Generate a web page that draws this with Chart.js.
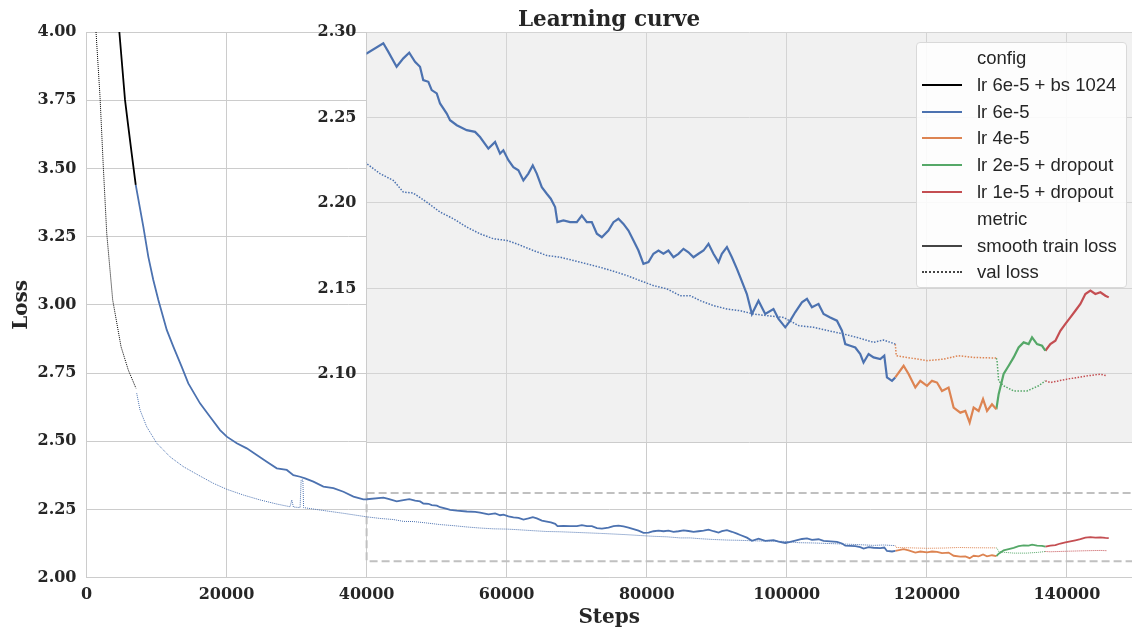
<!DOCTYPE html>
<html>
<head>
<meta charset="utf-8">
<title>Learning curve</title>
<script src="https://cdn.jsdelivr.net/npm/chart.js@4.4.1/dist/chart.umd.min.js"></script>
<style>
  html, body { margin: 0; padding: 0; background: #fff; }
  #wrap { position: relative; width: 1132px; height: 628px; overflow: hidden; }
  #main { position: absolute; left: 0; top: 0; }
  #inset { position: absolute; left: 300px; top: 0; }
  #title {
    position: absolute; left: 86px; width: 1046px; top: 7px; text-align: center;
    font: bold 21.5px/24px "DejaVu Serif", serif; color: #262626;
  }
  #legend {
    position: absolute; left: 916px; top: 42px; width: 211px; height: 246px;
    background: rgba(255, 255, 255, 0.85); border: 1px solid #d9d9d9; border-radius: 4px;
    font: 18.5px "Liberation Sans", Arial, sans-serif; color: #262626; box-sizing: border-box;
  }
  .row { position: absolute; left: 0; height: 27px; line-height: 27px; white-space: nowrap; }
  .row .txt { position: absolute; left: 60px; }
  .row .hdl { position: absolute; left: 5px; width: 40px; top: 13px; }
</style>
</head>
<body>
<div id="wrap">
  <canvas id="main" width="1132" height="628"></canvas>
  <canvas id="inset" width="832" height="462"></canvas>
  <div id="title">Learning curve</div>
  <div id="legend"></div>
</div>
<script>
// Configs and legend labels
const configs = ['lr 6e-5 + bs 1024', 'lr 6e-5', 'lr 4e-5', 'lr 2e-5 + dropout', 'lr 1e-5 + dropout'];
const colors = ['#000000', '#4c72b0', '#dd8452', '#55a868', '#c44e52'];
const metrics = ['smooth train loss', 'val loss'];

// Tick labels
const xTicks = [0, 20000, 40000, 60000, 80000, 100000, 120000, 140000];
const yTicks = [2.00, 2.25, 2.50, 2.75, 3.00, 3.25, 3.50, 3.75, 4.00];
const insetYTicks = [2.10, 2.15, 2.20, 2.25, 2.30];
const insetXTicks = [40000, 60000, 80000, 100000, 120000, 140000];

// lr 6e-5 + bs 1024
const bs1024TrainSteps = [4690, 5500, 5970, 6450, 7030];
const bs1024TrainLoss = [4.000, 3.751, 3.653, 3.555, 3.440];
const bs1024ValSteps = [1360, 1930, 2400, 2890, 3740, 4930, 5970, 7070];
const bs1024ValLoss = [4.000, 3.763, 3.506, 3.262, 3.018, 2.847, 2.761, 2.694];

// lr 6e-5
const lr6TrainSteps = [7030, 8120, 8830, 9540, 10260, 11460, 12400, 13600, 14540, 16210, 17640, 19070,
  20030, 21460, 22890, 24310, 25740, 27170, 28600, 29540, 30500, 31210, 32400, 33830, 35260, 36690,
  38120, 39540, 40030, 42400, 43100, 44300, 45260, 46100, 46930, 47640, 48100, 48830, 49310, 50030,
  50500, 51460, 51930, 52890, 54310, 55500, 56210, 57400, 58360, 59070, 59540, 60260, 60970, 61690,
  62400, 63110, 63740, 64310, 65030, 65740, 66310, 66930, 67260, 68120, 69070, 70030, 70740, 71460,
  72170, 72890, 73600, 74540, 75260, 75970, 76690, 77400, 78120, 78830, 79540, 80260, 80970, 81690,
  82400, 83110, 83830, 84540, 85260, 85970, 86690, 87400, 88120, 88830, 89540, 90260, 90740, 91460,
  92170, 92890, 93360, 94310, 95030, 95970, 96930, 98110, 98830, 99790, 100500, 101210, 102170,
  102890, 103600, 104540, 105260, 106210, 107170, 107890, 108360, 109070, 109790, 110500, 110970,
  111690, 112400, 113360, 113930, 114310, 115030, 115500];
const lr6TrainLoss = [3.440, 3.286, 3.176, 3.091, 3.018, 2.908, 2.847, 2.773, 2.712, 2.639, 2.590, 2.541,
  2.517, 2.493, 2.474, 2.450, 2.425, 2.401, 2.395, 2.376, 2.370, 2.364, 2.352, 2.334, 2.328, 2.315,
  2.297, 2.287, 2.2875, 2.2934, 2.2885, 2.2797, 2.2846, 2.2879, 2.2826, 2.2797, 2.2719, 2.2709, 2.2660, 2.2641,
  2.2582, 2.2523, 2.2484, 2.2455, 2.2426, 2.2416, 2.2386, 2.2318, 2.2357, 2.2289, 2.2308, 2.2250, 2.2210, 2.2191,
  2.2132, 2.2172, 2.2220, 2.2172, 2.2093, 2.2054, 2.2025, 2.1976, 2.1888, 2.1898, 2.1888, 2.1888, 2.1927, 2.1888,
  2.1888, 2.1820, 2.1800, 2.1839, 2.1888, 2.1908, 2.1878, 2.1839, 2.1781, 2.1722, 2.1644, 2.1654, 2.1703, 2.1722,
  2.1703, 2.1722, 2.1683, 2.1703, 2.1732, 2.1712, 2.1683, 2.1703, 2.1722, 2.1761, 2.1703, 2.1654, 2.1703, 2.1742,
  2.1683, 2.1615, 2.1566, 2.1468, 2.1351, 2.1429, 2.1351, 2.1380, 2.1322, 2.1273, 2.1312, 2.1361, 2.1419,
  2.1439, 2.1390, 2.1410, 2.1351, 2.1331, 2.1312, 2.1253, 2.1175, 2.1165, 2.1155, 2.1117, 2.1067,
  2.1117, 2.1097, 2.1087, 2.1107, 2.0980, 2.0960, 2.0980];
const lr6ValSteps = [7170, 7640, 8600, 10030, 11930, 13830, 15970, 18110, 20030, 22400, 24790, 27170,
  29070, 29310, 29550, 30500, 30650, 30900, 31000, 33360, 36690, 40030, 41930, 43830, 45260, 46690,
  48600, 50500, 52400, 54310, 56210, 58110, 60030, 61460, 63830, 65740, 67640, 69540, 71460, 73360,
  75260, 77170, 79070, 80970, 82890, 84790, 86210, 87640, 89540, 91460, 93360, 95260, 97170, 99540,
  101690, 103830, 105970, 108110, 110030, 112400, 113830, 115500];
const lr6ValLoss = [2.676, 2.615, 2.553, 2.493, 2.443, 2.407, 2.376, 2.346, 2.324, 2.303, 2.285, 2.270,
  2.260, 2.285, 2.259, 2.257, 2.358, 2.358, 2.257, 2.248, 2.236, 2.2230, 2.2172, 2.2132, 2.2064, 2.2058,
  2.2005, 2.1947, 2.1908, 2.1859, 2.1820, 2.1791, 2.1781, 2.1761, 2.1722, 2.1693, 2.1683, 2.1664, 2.1644, 2.1624,
  2.1601, 2.1576, 2.1546, 2.1517, 2.1498, 2.1458, 2.1458, 2.1429, 2.1400, 2.1380, 2.1370, 2.1351, 2.1341, 2.1331,
  2.1283, 2.1273, 2.1253, 2.1234, 2.1214, 2.1185, 2.1199, 2.1175];

// lr 4e-5
const lr4TrainSteps = [115500, 116690, 117400, 118360, 119070, 120030, 120740, 121460, 122170, 123110,
  123830, 124790, 125500, 126120, 126690, 127400, 128030, 128600, 129310, 129930];
const lr4TrainLoss = [2.0980, 2.1048, 2.1000, 2.0921, 2.0960, 2.0931, 2.0960, 2.0950, 2.0901, 2.0921,
  2.0804, 2.0774, 2.0784, 2.0716, 2.0804, 2.0784, 2.0853, 2.0784, 2.0823, 2.0794];
const lr4ValSteps = [115500, 115640, 117170, 120030, 122400, 124540, 126690, 129930];
const lr4ValLoss = [2.1175, 2.1107, 2.1097, 2.1078, 2.1087, 2.1107, 2.1097, 2.1093];

// lr 2e-5 + dropout
const lr2TrainSteps = [129930, 130260, 130970, 131690, 132400, 133110, 133830, 134540, 135030, 135740,
  136460, 136930];
const lr2TrainLoss = [2.0794, 2.0882, 2.1000, 2.1048, 2.1097, 2.1155, 2.1185, 2.1175, 2.1214, 2.1175,
  2.1165, 2.1136];
const lr2ValSteps = [129930, 130030, 130260, 130970, 132400, 134310, 135970, 136930];
const lr2ValLoss = [2.1093, 2.1078, 2.0960, 2.0931, 2.0901, 2.0901, 2.0931, 2.0960];

// lr 1e-5 + dropout
const lr1TrainSteps = [136930, 137640, 138360, 139070, 139790, 140500, 141210, 141930, 142640, 143360,
  144070, 144790, 145500, 145980];
const lr1TrainLoss = [2.1136, 2.1175, 2.1195, 2.1253, 2.1293, 2.1331, 2.1370, 2.1410, 2.1468, 2.1488,
  2.1468, 2.1478, 2.1458, 2.1448];
const lr1ValSteps = [136930, 137640, 140030, 142890, 144790, 145740];
const lr1ValLoss = [2.0960, 2.0950, 2.0970, 2.0989, 2.0999, 2.0989];

// Axis ranges and zoom window
const X_MAX = 149300;
const ZOOM_X_MIN = 40000;
const ZOOM_Y_MIN = 2.06;
const ZOOM_Y_MAX = 2.31;
const INSET_Y_MAX = 2.30;

const SERIF = '"DejaVu Serif", serif';
const TEXT = '#262626';
const GRID = '#cccccc';

const runs = [
  [bs1024TrainSteps, bs1024TrainLoss, bs1024ValSteps, bs1024ValLoss],
  [lr6TrainSteps, lr6TrainLoss, lr6ValSteps, lr6ValLoss],
  [lr4TrainSteps, lr4TrainLoss, lr4ValSteps, lr4ValLoss],
  [lr2TrainSteps, lr2TrainLoss, lr2ValSteps, lr2ValLoss],
  [lr1TrainSteps, lr1TrainLoss, lr1ValSteps, lr1ValLoss]
];

function pts(steps, loss) {
  return steps.map((s, i) => ({ x: s, y: loss[i] }));
}

function buildDatasets(trainWidth, valWidth, valDash) {
  const sets = [];
  runs.forEach((r, i) => {
    sets.push({ data: pts(r[2], r[3]), borderColor: colors[i], borderWidth: valWidth,
      borderDash: valDash, pointRadius: 0, tension: 0, fill: false });
    sets.push({ data: pts(r[0], r[1]), borderColor: colors[i], borderWidth: trainWidth,
      pointRadius: 0, tension: 0, fill: false });
  });
  return sets;
}

const tickFont = { family: SERIF, size: 16, weight: 'bold' };
const titleFont = { family: SERIF, size: 20, weight: 'bold' };

// dashed box showing the zoomed window
const zoomBox = {
  id: 'zoomBox',
  beforeDatasetsDraw(chart) {
    const { ctx, scales: { x, y }, chartArea } = chart;
    const l = x.getPixelForValue(ZOOM_X_MIN);
    const t = y.getPixelForValue(ZOOM_Y_MAX);
    const b = y.getPixelForValue(ZOOM_Y_MIN);
    ctx.save();
    ctx.strokeStyle = '#c0c0c0';
    ctx.lineWidth = 2;
    ctx.setLineDash([8, 4]);
    ctx.strokeRect(l, t, chartArea.right + 10 - l, b - t);
    ctx.restore();
  }
};

const insetBg = {
  id: 'insetBg',
  beforeDraw(chart) {
    const { ctx, chartArea: a } = chart;
    ctx.save();
    ctx.fillStyle = '#f1f1f1';
    ctx.fillRect(a.left, a.top, a.right - a.left, a.bottom - a.top);
    ctx.restore();
  }
};

new Chart(document.getElementById('main'), {
  type: 'line',
  data: { datasets: buildDatasets(1.8, 1, [1, 1]) },
  plugins: [zoomBox],
  options: {
    responsive: false,
    animation: false,
    layout: { padding: { top: 32, right: 0, left: 0, bottom: 0 } },
    plugins: { legend: { display: false }, tooltip: { enabled: false } },
    scales: {
      x: {
        type: 'linear', min: 0, max: X_MAX,
        afterBuildTicks: s => { s.ticks = xTicks.map(v => ({ value: v })); },
        afterFit: s => { s.height = 50.3; },
        ticks: { font: tickFont, color: TEXT, padding: 8, maxRotation: 0, callback: v => String(v) },
        grid: { color: GRID, drawTicks: false },
        border: { color: GRID },
        title: { display: true, text: 'Steps', font: { ...titleFont, lineHeight: 1 }, color: TEXT, padding: 0 }
      },
      y: {
        type: 'linear', min: 2, max: 4,
        afterBuildTicks: s => { s.ticks = yTicks.map(v => ({ value: v })); },
        afterFit: s => { s.width = 86.5; },
        ticks: { font: tickFont, color: TEXT, padding: 10, callback: v => v.toFixed(2) },
        grid: { color: GRID, drawTicks: false },
        border: { color: GRID },
        title: { display: true, text: 'Loss', font: titleFont, color: TEXT, padding: { top: 10, bottom: 0 } }
      }
    }
  }
});

new Chart(document.getElementById('inset'), {
  type: 'line',
  data: { datasets: buildDatasets(2.2, 1.5, [1.5, 1.5]) },
  plugins: [insetBg],
  options: {
    responsive: false,
    animation: false,
    layout: { padding: { top: 32, right: 0, left: 0, bottom: 0 } },
    plugins: { legend: { display: false }, tooltip: { enabled: false } },
    scales: {
      x: {
        type: 'linear', min: ZOOM_X_MIN, max: X_MAX,
        afterBuildTicks: s => { s.ticks = insetXTicks.map(v => ({ value: v })); },
        afterFit: s => { s.height = 0; },
        ticks: { display: false },
        grid: { color: '#d4d4d4', drawTicks: false },
        border: { color: GRID }
      },
      y: {
        type: 'linear', min: ZOOM_Y_MIN, max: INSET_Y_MAX,
        afterBuildTicks: s => { s.ticks = insetYTicks.map(v => ({ value: v })); },
        afterFit: s => { s.width = 66.5; },
        ticks: { font: tickFont, color: TEXT, padding: 10, callback: v => v.toFixed(2) },
        grid: { color: '#d4d4d4', drawTicks: false },
        border: { color: GRID }
      }
    }
  }
});

// legend: two groups, "config" and "metric"
const legend = document.getElementById('legend');
const rows = [{ text: 'config' }];
configs.forEach((c, i) => rows.push({ text: c, line: `2.5px solid ${colors[i]}` }));
rows.push({ text: 'metric' });
rows.push({ text: metrics[0], line: '2.5px solid #444444' });
rows.push({ text: metrics[1], line: '2px dotted #444444' });
rows.forEach((r, i) => {
  const row = document.createElement('div');
  row.className = 'row';
  row.style.top = (1 + i * 26.8) + 'px';
  row.style.width = '100%';
  let html = `<span class="txt">${r.text}</span>`;
  if (r.line) html = `<div class="hdl" style="border-top:${r.line}"></div>` + html;
  row.innerHTML = html;
  legend.appendChild(row);
});
</script>
</body>
</html>
